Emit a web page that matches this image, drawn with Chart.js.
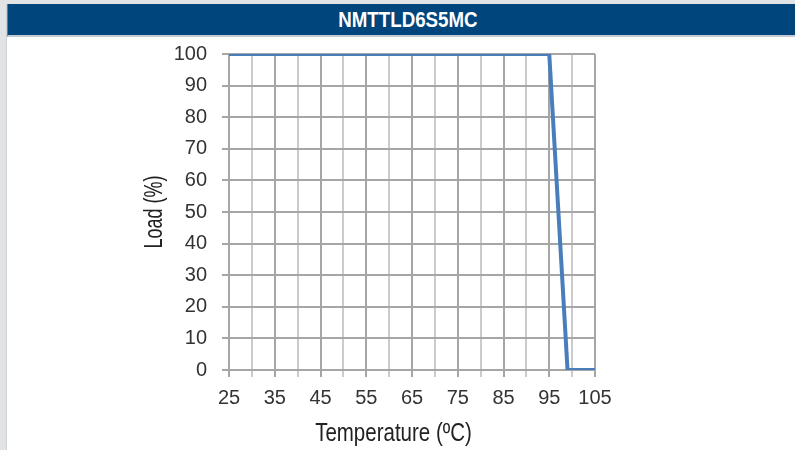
<!DOCTYPE html>
<html>
<head>
<meta charset="utf-8">
<script src="https://cdn.jsdelivr.net/npm/chart.js@4"></script>
<style>
    body { margin: 0; background: #e2e3e5; width: 795px; height: 450px; overflow: hidden; position: relative; }
    #panel { position: absolute; left: 6px; top: 4px; right: 0; bottom: 0; background: #fff; border-left: 1px solid #cfd2d6; }
    #header { height: 31px; background: #00457c; border-bottom: 2px solid #c3cad2; border-left: 1px solid #5b80a8;
        color: #fff; font: bold 22px "Liberation Sans", sans-serif; line-height: 31px;
        text-align: center; padding-left: 12px; }
    #header span { display: inline-block; transform: scaleX(0.85); }
    #chartWrap { position: absolute; left: 0; top: 0; width: 795px; height: 450px; }
</style>
</head>
<body>
<div id="panel"><div id="header"><span id="headerText"></span></div></div>
<div id="chartWrap"><canvas id="derating" width="795" height="450"></canvas></div>
<script>
// Chart data
const chartTitle = 'NMTTLD6S5MC';
const temperatures = [25, 95, 99, 105];
const loads = [100, 100, 0, 0];
const xTitle = 'Temperature (ºC)';
const yTitle = 'Load (%)';

const majorGrid = '#a6a6a6';
const minorGrid = '#cbcbcb';
const tickFont = { family: '"Liberation Sans", sans-serif', size: 20 };

document.getElementById('headerText').textContent = chartTitle;

// Build points from the arrays
function getPoints() {
    return temperatures.map((t, i) => ({ x: t, y: loads[i] }));
}

// Axis titles in a narrow face (no condensed font installed, so squeeze it)
const narrowTitles = {
    id: 'narrowTitles',
    afterDraw(chart) {
        const ctx = chart.ctx;
        const area = chart.chartArea;
        ctx.save();
        ctx.fillStyle = '#222';
        ctx.textAlign = 'center';
        ctx.textBaseline = 'middle';

        // x title, centred on the canvas
        ctx.save();
        ctx.translate(chart.width / 2 - 4, chart.height - 16);
        ctx.scale(0.82, 1);
        ctx.font = '25px "Liberation Sans", sans-serif';
        ctx.fillText(xTitle, 0, 0);
        ctx.restore();

        // y title, rotated
        ctx.save();
        ctx.translate(chart.scales.y.left + 17, (area.top + area.bottom) / 2);
        ctx.rotate(-Math.PI / 2);
        ctx.scale(0.72, 1);
        ctx.font = '25px "Liberation Sans", sans-serif';
        ctx.fillText(yTitle, 0, 0);
        ctx.restore();

        ctx.restore();
    }
};

function initializeChart() {
    new Chart(document.getElementById('derating'), {
        type: 'line',
        data: {
            datasets: [{
                label: chartTitle,
                data: getPoints(),
                borderColor: '#4a7ebb',
                borderWidth: 4,
                pointRadius: 0,
                tension: 0,
                fill: false
            }]
        },
        options: {
            responsive: false,
            animation: false,
            layout: {
                padding: { left: 138, right: 200, top: 54, bottom: 0 }
            },
            plugins: {
                legend: { display: false },
                tooltip: { enabled: false }
            },
            scales: {
                x: {
                    type: 'linear',
                    min: 25,
                    max: 105,
                    afterFit: scale => { scale.height = 80; },
                    ticks: {
                        stepSize: 5,
                        autoSkip: false,
                        maxRotation: 0,
                        padding: 9,
                        color: '#333',
                        font: tickFont,
                        callback: v => ((v - 25) % 10 === 0 ? v : '')
                    },
                    grid: {
                        color: ctx => ((ctx.tick.value - 25) % 10 === 0 ? majorGrid : minorGrid),
                        lineWidth: 2,
                        tickLength: 7
                    },
                    border: { color: majorGrid, width: 2 }
                },
                y: {
                    min: 0,
                    max: 100,
                    afterFit: scale => { scale.width = 229 - 138; },
                    ticks: {
                        stepSize: 10,
                        padding: 15,
                        color: '#333',
                        font: tickFont
                    },
                    grid: {
                        color: majorGrid,
                        lineWidth: 2,
                        tickLength: 7
                    },
                    border: { color: majorGrid, width: 2 }
                }
            }
        },
        plugins: [narrowTitles]
    });
}

document.addEventListener('DOMContentLoaded', initializeChart);
</script>
</body>
</html>
